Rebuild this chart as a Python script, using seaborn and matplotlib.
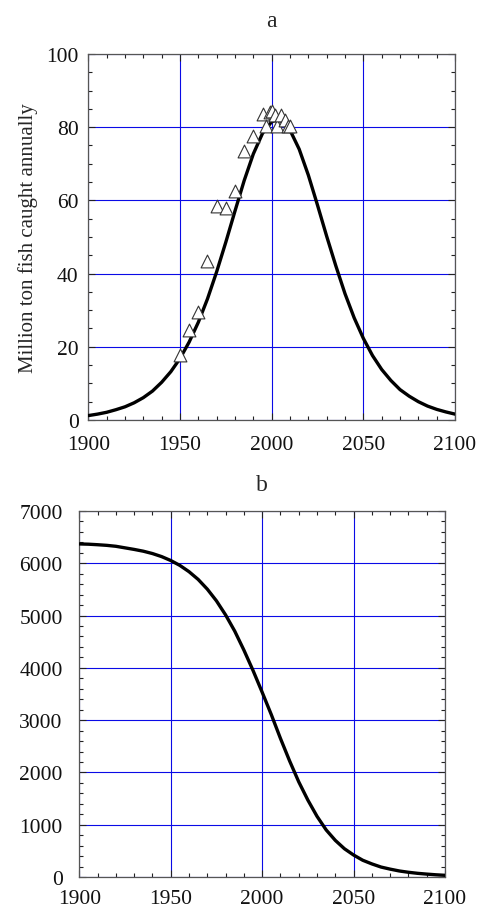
import numpy as np
import pandas as pd
import matplotlib
matplotlib.use("Agg")
import matplotlib.pyplot as plt
from matplotlib.ticker import MultipleLocator
import seaborn as sns

sns.set_style("white")
plt.rcParams['font.family'] = ['Liberation Serif', 'DejaVu Serif']

# Panel a: model curve (million tons per year)
years_curve = [1900, 1905, 1910, 1915, 1920, 1925, 1930, 1935, 1940, 1945,
               1950, 1955, 1960, 1965, 1970, 1975, 1980, 1985, 1990, 1995,
               2000, 2003, 2005, 2010, 2015, 2020, 2025, 2030, 2035, 2040,
               2045, 2050, 2055, 2060, 2065, 2070, 2075, 2080, 2085, 2090,
               2095, 2100]
catch_curve = [1.2, 1.6, 2.1, 2.8, 3.6, 4.7, 6.1, 7.9, 10.3, 13.2,
               16.8, 21.3, 26.7, 33.1, 40.5, 48.6, 57.1, 65.4, 72.7, 78.3,
               81.5, 82.0, 81.8, 79.2, 74.0, 66.9, 58.7, 50.2, 42.1, 34.5,
               27.9, 22.3, 17.6, 13.8, 10.8, 8.3, 6.5, 5.0, 3.8, 2.9,
               2.2, 1.6]

# Panel a: observed catches (triangles)
years_obs = [1950, 1955, 1960, 1965, 1970, 1975, 1980, 1985, 1990, 1995,
             1997, 1999, 2000, 2002, 2003, 2005, 2007, 2009, 2010]
catch_obs = [17.7, 24.6, 29.5, 43.5, 58.5, 57.8, 62.6, 73.6, 77.7, 83.6,
             80.4, 84.1, 84.5, 83.4, 80.4, 83.4, 82.0, 80.4, 80.4]

# Panel b: remaining stock (million tons)
years_stock = [1900, 1905, 1910, 1915, 1920, 1925, 1930, 1935, 1940, 1945,
               1950, 1955, 1960, 1965, 1970, 1975, 1980, 1985, 1990, 1995,
               2000, 2005, 2010, 2015, 2020, 2025, 2030, 2035, 2040, 2045,
               2050, 2055, 2060, 2065, 2070, 2075, 2080, 2085, 2090, 2095,
               2100]
stock = [6370, 6365, 6355, 6343, 6325, 6295, 6265, 6231, 6186, 6128,
         6053, 5959, 5839, 5691, 5505, 5281, 5012, 4702, 4340, 3950,
         3533, 3105, 2650, 2220, 1820, 1470, 1160, 900, 700, 540,
         420, 320, 250, 190, 150, 115, 90, 70, 55, 42,
         32]

df_curve = pd.DataFrame({"year": years_curve, "catch": catch_curve})
df_obs = pd.DataFrame({"year": years_obs, "catch": catch_obs})
df_stock = pd.DataFrame({"year": years_stock, "stock": stock})

fig = plt.figure(figsize=(4.81, 9.12), dpi=100)
ax1 = fig.add_axes([0.1836, 0.5384, 0.7624, 0.4013])
ax2 = fig.add_axes([0.1649, 0.0373, 0.7603, 0.4013])

grid_color = "#0a0ae6"

def style(ax, ymin, ymax, ymaj, ymin_step, ypad, xpad):
    ax.set_xlim(1900, 2100)
    ax.set_ylim(ymin, ymax)
    ax.xaxis.set_major_locator(MultipleLocator(50))
    ax.xaxis.set_minor_locator(MultipleLocator(10))
    ax.yaxis.set_major_locator(MultipleLocator(ymaj))
    ax.yaxis.set_minor_locator(MultipleLocator(ymin_step))
    ax.tick_params(which="both", direction="in", top=True, right=True,
                   left=True, bottom=True, colors="#222222", labelcolor="#111111")
    ax.tick_params(which="major", length=5, width=0.8, labelsize=15.5)
    ax.tick_params(axis="x", which="major", pad=xpad)
    ax.tick_params(axis="y", which="major", pad=ypad)
    ax.tick_params(which="minor", length=3, width=0.8)
    ax.grid(True, which="major", color=grid_color, linewidth=0.8)
    ax.set_axisbelow(True)
    for s in ax.spines.values():
        s.set_color("#555555")
        s.set_linewidth(0.9)
    ax.set_xlabel("")
    ax.set_ylabel("")

sns.lineplot(data=df_curve, x="year", y="catch", ax=ax1, color="black",
             linewidth=2.4, zorder=3)
sns.scatterplot(data=df_obs, x="year", y="catch", ax=ax1, marker="^", s=85,
                facecolor="white", edgecolor="#333333", linewidth=0.8, zorder=4)
style(ax1, 0, 100, 20, 5, 7, 11)
ax1.set_ylabel("Million ton fish caught annually", fontsize=15, labelpad=6)
ax1.set_title("a", fontsize=17, pad=20)

sns.lineplot(data=df_stock, x="year", y="stock", ax=ax2, color="black",
             linewidth=2.4, zorder=3)
style(ax2, 0, 7000, 1000, 200, 12, 9)
ax2.set_title("b", fontsize=17, pad=15)

fig.savefig("out.png", dpi=100)
